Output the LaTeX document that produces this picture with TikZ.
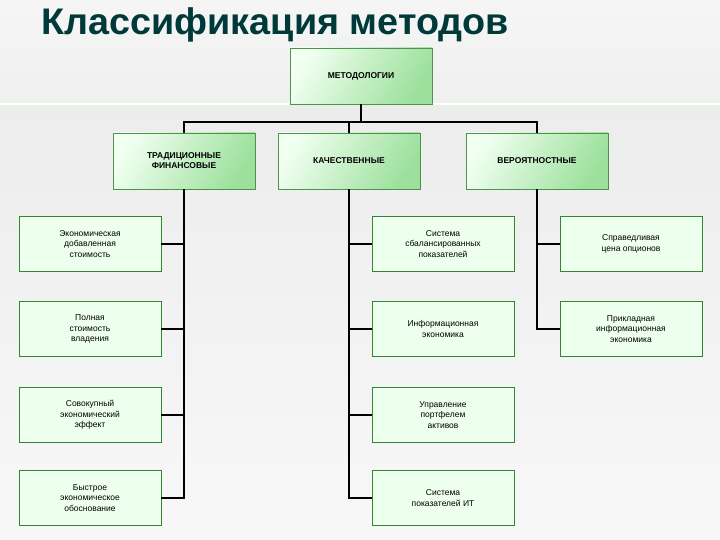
\documentclass[tikz,border=0pt]{standalone}
\usepackage{fontspec}
\setmainfont{Liberation Sans}
\begin{document}
\begin{tikzpicture}[x=1pt,y=-1pt,
  hbox/.style={draw=green!40!black!70!white,line width=0.6pt,minimum width=142pt,minimum height=56pt,
    left color=green!6!white,right color=green!30!white!88!black,shading angle=60,
    font=\fontsize{8.5}{10}\selectfont\bfseries,align=center,text=black},
  lbox/.style={draw=green!40!black!80!white,line width=0.6pt,minimum width=142pt,minimum height=55pt,
    fill=green!7!white,font=\fontsize{8.5}{10.5}\selectfont,align=center,text=black},
  conn/.style={line width=1.4pt,black}]
\useasboundingbox (0,0) rectangle (720,540);
\shade[top color=green!4!gray!8!white,bottom color=green!6!gray!12!white] (0,0) rectangle (720,104);
\shade[top color=green!4!gray!15!white,bottom color=green!3!gray!6!white] (0,104) rectangle (720,540);
\draw[white,line width=1.5pt] (0,104) -- (720,104);
\node[anchor=west,text=teal!45!black,font=\fontsize{37}{40}\selectfont\bfseries,xscale=1.02] (title) at (38,25) {Классификация методов};
\node[hbox] (m) at (361,76) {МЕТОДОЛОГИИ};
\node[hbox] (t) at (184,161) {ТРАДИЦИОННЫЕ\\ФИНАНСОВЫЕ};
\node[hbox] (k) at (349,161) {КАЧЕСТВЕННЫЕ};
\node[hbox] (v) at (537,161) {ВЕРОЯТНОСТНЫЕ};
\node[lbox] (a1) at (90,244) {Экономическая\\добавленная\\стоимость};
\node[lbox] (a2) at (90,329) {Полная\\стоимость\\владения};
\node[lbox] (a3) at (90,415) {Совокупный\\экономический\\эффект};
\node[lbox] (a4) at (90,498) {Быстрое\\экономическое\\обоснование};
\node[lbox] (b1) at (443,244) {Система\\сбалансированных\\показателей};
\node[lbox] (b2) at (443,329) {Информационная\\экономика};
\node[lbox] (b3) at (443,415) {Управление\\портфелем\\активов};
\node[lbox] (b4) at (443,498) {Система\\показателей ИТ};
\node[lbox] (c1) at (631,244) {Справедливая\\цена опционов};
\node[lbox] (c2) at (631,329) {Прикладная\\информационная\\экономика};
\coordinate (bar) at (361,122);
\draw[conn] (m.south) -- (bar);
\draw[conn] (t.north) -- (t.north |- bar) -- (v.north |- bar) -- (v.north);
\draw[conn] (k.north) -- (k.north |- bar);
\draw[conn] (t.south) -- (t.south |- a4.east) -- (a4.east);
\foreach \n in {a1,a2,a3} \draw[conn] (\n.east) -- (t.south |- \n.east);
\draw[conn] (k.south) -- (k.south |- b4.west) -- (b4.west);
\foreach \n in {b1,b2,b3} \draw[conn] (\n.west) -- (k.south |- \n.west);
\draw[conn] (v.south) -- (v.south |- c2.west) -- (c2.west);
\draw[conn] (c1.west) -- (v.south |- c1.west);
\end{tikzpicture}
\end{document}
